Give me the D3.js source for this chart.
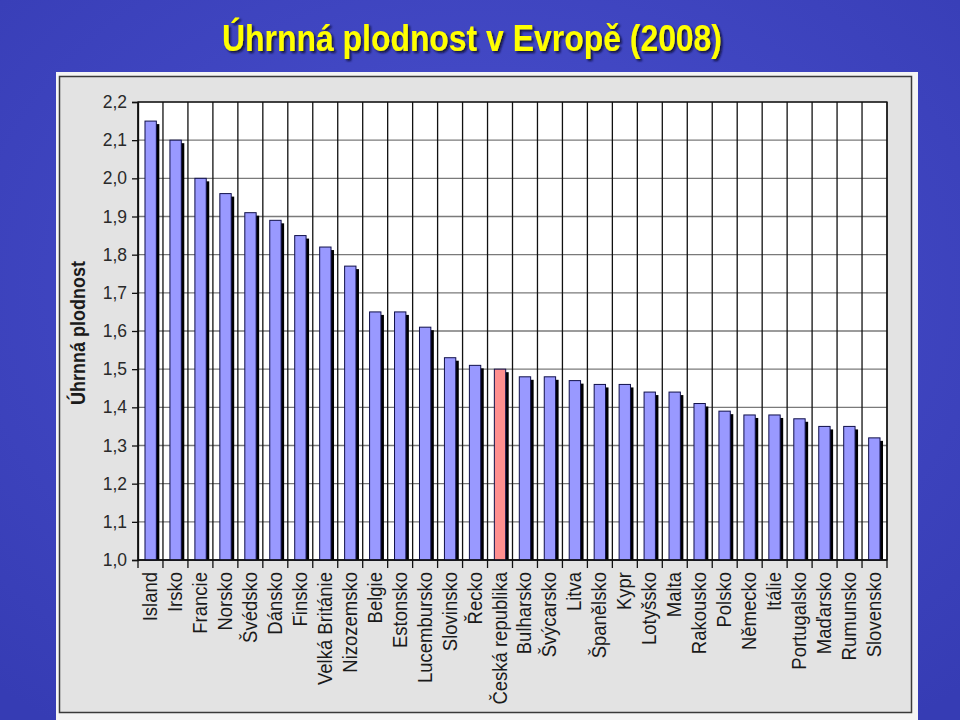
<!DOCTYPE html>
<html>
<head>
<meta charset="utf-8">
<script src="https://cdn.jsdelivr.net/npm/d3@7"></script>
<style>
  html, body { margin: 0; padding: 0; background: #3f46c4; }
  svg { display: block; }
</style>
</head>
<body>
<svg id="chart" width="960" height="720"></svg>
<script>
const countries = ["Island","Irsko","Francie","Norsko","Švédsko","Dánsko","Finsko","Velká Británie","Nizozemsko","Belgie","Estonsko","Lucembursko","Slovinsko","Řecko","Česká republika","Bulharsko","Švýcarsko","Litva","Španělsko","Kypr","Lotyšsko","Malta","Rakousko","Polsko","Německo","Itálie","Portugalsko","Maďarsko","Rumunsko","Slovensko"];
const fertility = [2.15,2.10,2.00,1.96,1.91,1.89,1.85,1.82,1.77,1.65,1.65,1.61,1.53,1.51,1.50,1.48,1.48,1.47,1.46,1.46,1.44,1.44,1.41,1.39,1.38,1.38,1.37,1.35,1.35,1.32];
const highlight = "Česká republika";
const yTicks = [1.0,1.1,1.2,1.3,1.4,1.5,1.6,1.7,1.8,1.9,2.0,2.1,2.2];
const titleText = "Úhrnná plodnost v Evropě (2008)";
const yTitle = "Úhrnná plodnost";

const data = countries.map((c, i) => ({ name: c, value: fertility[i] }));
const svg = d3.select("#chart");

// background
const defs = svg.append("defs");
const rg = defs.append("radialGradient").attr("id","bg").attr("cx","50%").attr("cy","40%").attr("r","75%");
rg.append("stop").attr("offset","0%").attr("stop-color","#4a50cf");
rg.append("stop").attr("offset","100%").attr("stop-color","#363cb4");
svg.append("rect").attr("width",960).attr("height",720).attr("fill","url(#bg)");
const f = defs.append("filter").attr("id","tsh").attr("x","-10%").attr("y","-30%").attr("width","120%").attr("height","160%");
f.append("feDropShadow").attr("dx",2).attr("dy",2).attr("stdDeviation",1.2).attr("flood-color","#101030").attr("flood-opacity",0.9);

// title
svg.append("text")
  .attr("x", 472).attr("y", 51)
  .attr("text-anchor","middle")
  .attr("font-family","'Liberation Sans Narrow','Arial Narrow','Liberation Sans',Arial,sans-serif")
  .attr("font-weight","bold").attr("font-size",37)
  .attr("fill","#ffff00")
  .attr("textLength",500).attr("lengthAdjust","spacingAndGlyphs")
  .attr("filter","url(#tsh)")
  .text(titleText);

// panel
svg.append("rect").attr("x",56).attr("y",72).attr("width",862).attr("height",650).attr("fill","#f4f4f4");
svg.append("rect").attr("x",59.5).attr("y",76.5).attr("width",852).attr("height",636).attr("fill","#e3e3e3")
  .attr("stroke","#3a3a3a").attr("stroke-width",1.5);

const m = { left: 138, right: 887, top: 102, bottom: 560 };
const x = d3.scaleBand().domain(countries).range([m.left, m.right]).paddingInner(0.545).paddingOuter(0.28);
const y = d3.scaleLinear().domain([1.0, 2.2]).range([m.bottom, m.top]);

// plot bg
svg.append("rect").attr("x",m.left).attr("y",m.top).attr("width",m.right-m.left).attr("height",m.bottom-m.top).attr("fill","#ffffff");

// horizontal grid
svg.append("g").selectAll("line").data(yTicks).join("line")
  .attr("x1",m.left).attr("x2",m.right)
  .attr("y1",d=>y(d)).attr("y2",d=>y(d))
  .attr("stroke","#7a7a7a").attr("stroke-width",1.3);

// vertical grid at category boundaries
const step = (m.right - m.left) / countries.length;
const bounds = d3.range(countries.length + 1).map(i => m.left + i * step);
svg.append("g").selectAll("line").data(bounds).join("line")
  .attr("x1",d=>d).attr("x2",d=>d)
  .attr("y1",m.top).attr("y2",m.bottom + 8)
  .attr("stroke","#111").attr("stroke-width",1.3);

// plot border
svg.append("rect").attr("x",m.left).attr("y",m.top).attr("width",m.right-m.left).attr("height",m.bottom-m.top)
  .attr("fill","none").attr("stroke","#111").attr("stroke-width",1.3);

// bars shadows
const bw = x.bandwidth();
svg.append("g").selectAll("rect").data(data).join("rect")
  .attr("x",d=>x(d.name)+3).attr("y",d=>y(d.value)+3)
  .attr("width",bw).attr("height",d=>y(1.0)-y(d.value)-3)
  .attr("fill","#000");
// bars
svg.append("g").selectAll("rect").data(data).join("rect")
  .attr("x",d=>x(d.name)).attr("y",d=>y(d.value))
  .attr("width",bw).attr("height",d=>y(1.0)-y(d.value))
  .attr("fill",d=>d.name===highlight ? "#ff8f8f" : "#9999ff")
  .attr("stroke","#10104a").attr("stroke-width",1);

// y axis
const yAxis = d3.axisLeft(y).tickValues(yTicks).tickSize(6).tickPadding(5)
  .tickFormat(d => d3.format(".1f")(d).replace(".", ","));
const ya = svg.append("g").attr("transform",`translate(${m.left},0)`).call(yAxis);
ya.select(".domain").attr("stroke","#111").attr("stroke-width",1.3);
ya.selectAll(".tick line").attr("stroke","#111").attr("stroke-width",1.3);
ya.selectAll(".tick text").attr("font-family","'Liberation Sans',Arial,sans-serif").attr("font-size",17.5).attr("fill","#2a2a2a");

// x axis line
svg.append("line").attr("x1",m.left).attr("x2",m.right).attr("y1",m.bottom).attr("y2",m.bottom)
  .attr("stroke","#111").attr("stroke-width",1.5);

// x labels
svg.append("g").selectAll("text").data(countries).join("text")
  .attr("transform", d => `translate(${x(d) + bw/2 + 6.5},${m.bottom + 12}) scale(1.1,1) rotate(-90)`)
  .attr("text-anchor","end")
  .attr("font-family","'Liberation Sans',Arial,sans-serif")
  .attr("font-size",18.5).attr("fill","#1a1a1a")
  .text(d => d);

// y title
svg.append("text")
  .attr("transform", `translate(85,${(m.top+m.bottom)/2 + 2}) scale(1.1,1) rotate(-90)`)
  .attr("text-anchor","middle")
  .attr("font-family","'Liberation Sans',Arial,sans-serif")
  .attr("font-weight","bold").attr("font-size",18).attr("fill","#1a1a1a")
  .text(yTitle);
</script>
</body>
</html>
